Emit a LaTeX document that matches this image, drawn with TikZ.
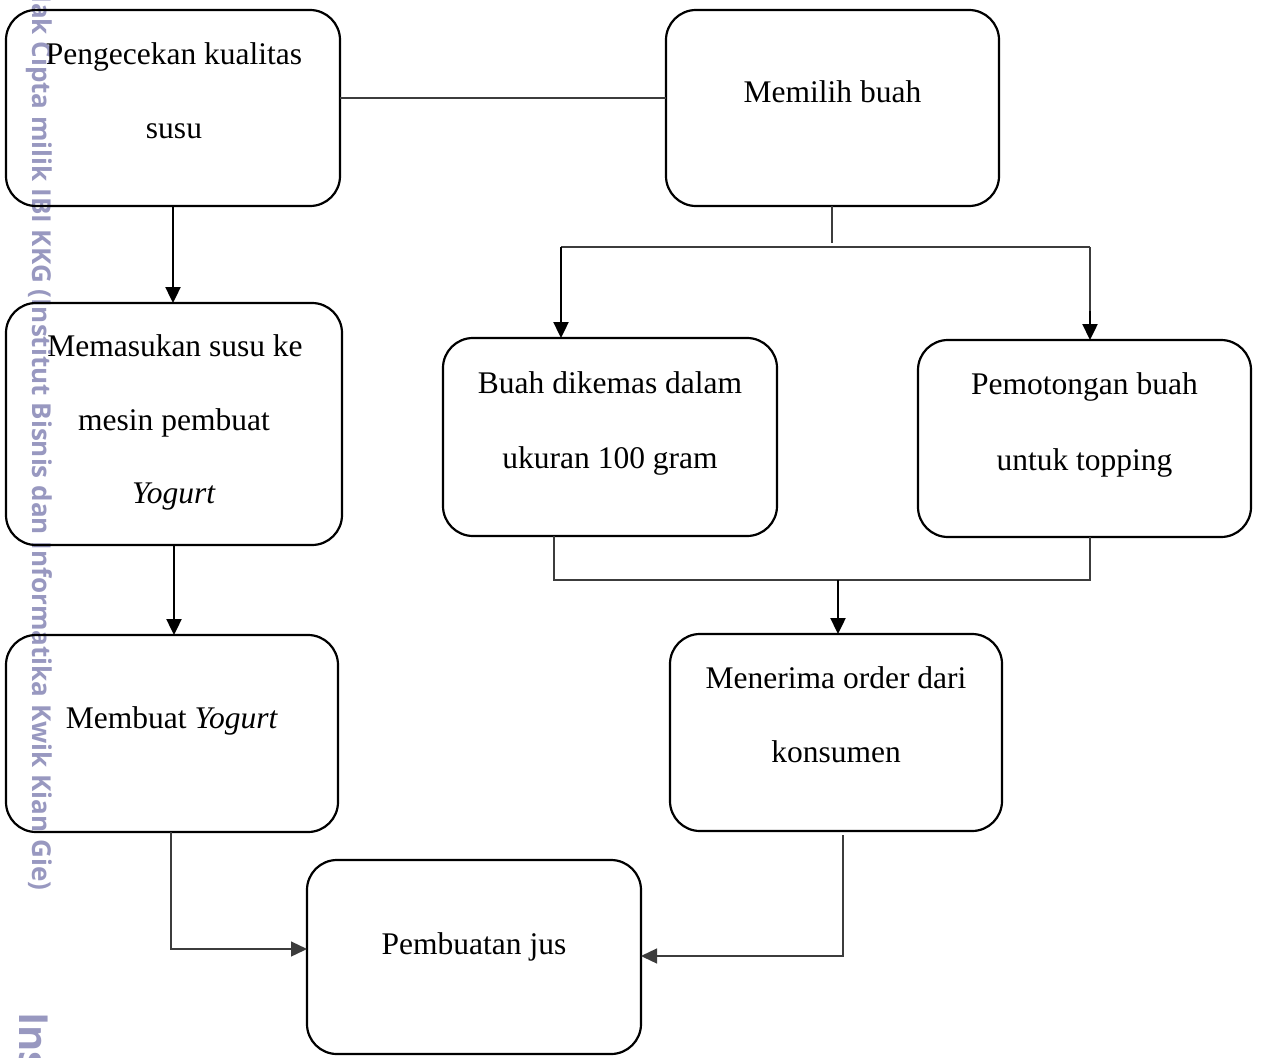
\documentclass[tikz,border=0pt]{standalone}
\usepackage{fontspec}
\setmainfont{Liberation Serif}
\newfontfamily\wmfont{Open Sans}
\usetikzlibrary{arrows.meta}
\definecolor{wmcol}{RGB}{152,152,192}
\definecolor{lncol}{RGB}{60,60,60}
\tikzset{
  box/.style={draw, line width=2.2pt, rounded corners=30pt, inner sep=0pt, outer sep=0pt},
  txt/.style={font=\fontsize{31.5}{38}\selectfont, inner sep=0pt, anchor=base},
  thinline/.style={draw=lncol, line width=1.3pt},
  thinarrow/.style={draw=lncol, line width=1.3pt, -{Triangle[length=16pt,width=15pt]}},
  thickarrow/.style={draw=black, line width=2.4pt, -{Triangle[length=16pt,width=15pt]}},
  wm/.style={text=wmcol, inner sep=0pt, rotate=-90, anchor=base west}
}
\begin{document}
\begin{tikzpicture}[x=1pt,y=-1pt]
\useasboundingbox (0,0) rectangle (1263,1057);
\fill[white] (0,0) rectangle (1263,1057);
% watermark
\node[wm, font=\wmfont\bfseries\fontsize{26}{30}\selectfont] (wm1) at (32,-17) {Hak Cipta milik IBI KKG (Institut Bisnis dan Informatika Kwik Kian Gie)};
\node[wm, font=\wmfont\bfseries\fontsize{40}{48}\selectfont] (wm2) at (19,1012) {Ins};
% boxes
\node[box, minimum width=334pt, minimum height=196pt] (b1) at (173,108) {};
\node[box, minimum width=333pt, minimum height=196pt] (b2) at (832.5,108) {};
\node[box, minimum width=336pt, minimum height=242pt] (b3) at (174,424) {};
\node[box, minimum width=332pt, minimum height=197pt] (b4) at (172,733.5) {};
\node[box, minimum width=334pt, minimum height=198pt] (b5) at (610,437) {};
\node[box, minimum width=333pt, minimum height=197pt] (b6) at (1084.5,438.5) {};
\node[box, minimum width=332pt, minimum height=197pt] (b7) at (836,732.5) {};
\node[box, minimum width=334pt, minimum height=194pt] (b8) at (474,957) {};
% texts
\node[txt] (t1a) at (174,64) {Pengecekan kualitas};
\node[txt] (t1b) at (174,138) {susu};
\node[txt] (t2) at (832.5,102) {Memilih buah};
\node[txt] (t3a) at (175,356) {Memasukan susu ke};
\node[txt] (t3b) at (174,430) {mesin pembuat};
\node[txt] (t3c) at (174,503) {\textit{Yogurt}};
\node[txt] (t4) at (172,728) {Membuat \textit{Yogurt}};
\node[txt] (t5a) at (610,393) {Buah dikemas dalam};
\node[txt] (t5b) at (610,468) {ukuran 100 gram};
\node[txt] (t6a) at (1084.5,394) {Pemotongan buah};
\node[txt] (t6b) at (1084.5,470) {untuk topping};
\node[txt] (t7a) at (836,688) {Menerima order dari};
\node[txt] (t7b) at (836,762) {konsumen};
\node[txt] (t8) at (474,954) {Pembuatan jus};
% connectors
\draw[thinline] ([yshift=10pt]b1.east) -- ([yshift=10pt]b2.west);
\draw[thickarrow] (b1.south) -- (b1.south |- b3.north);
\draw[thickarrow] (b3.south) -- (b3.south |- b4.north);
\coordinate (sl) at (561,247);
\coordinate (sr) at (1090,247);
\coordinate (srm) at (1090,311);
\coordinate (st) at (832,243);
\draw[thinline] (b2.south -| st) -- (st);
\draw[thinline] (sl) -- (sr);
\draw[thickarrow] (sl) -- (sl |- b5.north);
\draw[thinline] (sr) -- (srm);
\draw[thickarrow] (srm) -- (srm |- b6.north);
\coordinate (ml) at (554,580);
\coordinate (mr) at (1090,580);
\coordinate (mm) at (838,580);
\draw[thinline] (ml |- b5.south) -- (ml) -- (mr) -- (mr |- b6.south);
\draw[thickarrow] (mm) -- (mm |- b7.north);
\coordinate (c4) at (171,949);
\draw[thinarrow] (c4 |- b4.south) -- (c4) -- (c4 -| b8.west);
\coordinate (c7) at (843,956);
\coordinate (c7t) at (843,835);
\draw[thinarrow] (c7t) -- (c7) -- (c7 -| b8.east);
\end{tikzpicture}
\end{document}
